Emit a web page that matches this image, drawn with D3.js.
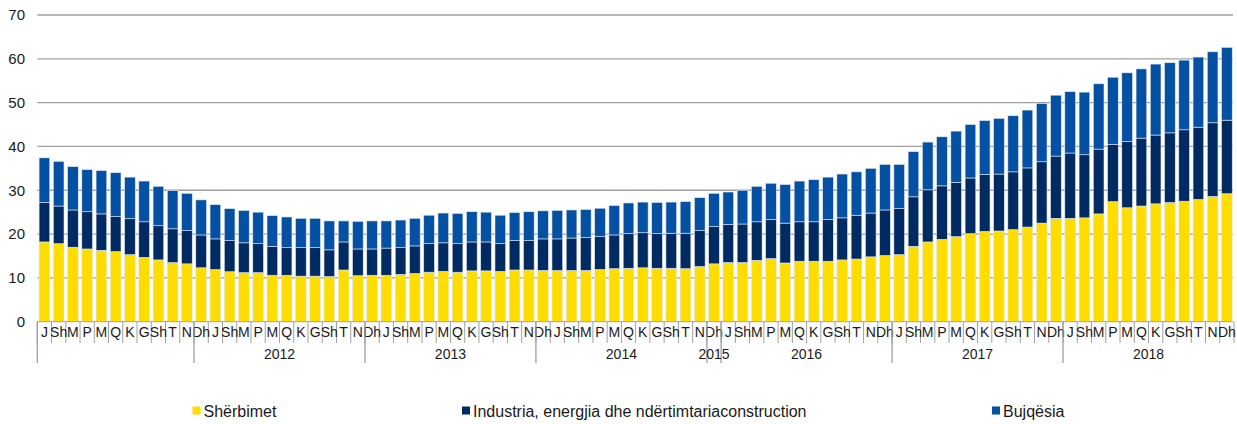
<!DOCTYPE html>
<html>
<head>
<meta charset="utf-8">
<script src="https://cdn.jsdelivr.net/npm/d3@7"></script>
<style>
  html, body { margin: 0; padding: 0; background: #fff; }
  svg { display: block; font-family: "Liberation Sans", Arial, sans-serif; }
</style>
</head>
<body>
<svg id="chart" width="1237" height="424"></svg>
<script>
// ---- Data ----
const monthLabels = ["J","Sh","M","P","M","Q","K","G","Sh","T","N","Dh"];
const yearLabels = ["", "2012", "2013", "2014", "2015", "2016", "2017", "2018"];
const yearSpans  = [11, 12, 12, 12, 1, 12, 12, 12];
const yTicks = [0, 10, 20, 30, 40, 50, 60, 70];
const seriesNames = ["Shërbimet", "Industria, energjia dhe ndërtimtariaconstruction", "Bujqësia"];

const sherbimet = [
  18.2,17.8,17.0,16.6,16.3,16.0,15.3,14.7,14.1,13.5,13.2,12.3,
  11.9,11.4,11.2,11.2,10.6,10.6,10.4,10.4,10.3,11.8,10.5,10.6,
  10.6,10.8,11.0,11.3,11.5,11.3,11.6,11.6,11.5,11.8,11.8,11.7,
  11.7,11.7,11.7,11.9,12.1,12.2,12.3,12.2,12.2,12.1,12.6,13.2,
  13.5,13.5,14.0,14.4,13.4,13.8,13.8,13.8,14.1,14.3,14.8,15.1,
  15.3,17.2,18.2,18.8,19.4,20.1,20.6,20.7,21.0,21.6,22.5,23.6,
  23.6,23.7,24.6,27.4,26.0,26.4,26.9,27.2,27.5,27.9,28.6,29.2
];
const industria = [
  9.0,8.6,8.5,8.5,8.3,8.0,8.2,8.1,7.8,7.7,7.6,7.5,
  7.0,7.1,6.8,6.6,6.6,6.3,6.5,6.5,6.1,6.4,6.1,6.0,
  6.2,6.1,6.3,6.5,6.5,6.5,6.6,6.6,6.3,6.7,6.7,7.2,
  7.2,7.4,7.5,7.5,7.7,7.9,8.0,7.9,8.0,8.1,8.2,8.5,
  8.7,8.8,8.8,8.9,9.1,9.0,9.0,9.5,9.6,10.0,10.0,10.4,
  10.5,11.3,11.9,12.2,12.4,12.7,13.0,13.0,13.2,13.5,14.0,14.2,
  14.9,14.4,14.8,13.1,15.1,15.5,15.7,15.9,16.3,16.5,16.8,16.8
];
const bujqesia = [
  10.2,10.2,9.9,9.6,9.9,10.0,9.5,9.3,9.0,8.7,8.5,8.0,
  7.8,7.3,7.4,7.2,7.0,7.0,6.7,6.7,6.6,4.8,6.3,6.4,
  6.2,6.3,6.3,6.5,6.8,6.9,6.9,6.8,6.5,6.4,6.6,6.4,
  6.5,6.4,6.4,6.5,6.7,7.0,7.0,7.1,7.1,7.2,7.5,7.6,
  7.4,7.7,8.1,8.3,8.8,9.3,9.6,9.7,10.0,9.9,10.2,10.4,
  10.1,10.3,10.9,11.2,11.7,12.2,12.3,12.7,12.8,13.2,13.3,13.9,
  14.0,14.3,14.9,15.3,15.7,15.8,16.2,16.0,15.9,16.0,16.2,16.6
];

(function () {
// ---- Build table ----
const n = sherbimet.length;
const rows = d3.range(n).map(i => ({
  idx: i,
  month: monthLabels[i % 12],
  s: sherbimet[i], ind: industria[i], b: bujqesia[i]
}));
const keys = ["s", "ind", "b"];
const colors = { s: "#FFDD00", ind: "#002A62", b: "#0450A3" };

// ---- Layout ----
const svg = d3.select("#chart");
const plotLeft = 37.3, plotRight = 1234, plotTop = 15, plotBottom = 321.7;

const x = d3.scaleBand()
  .domain(rows.map(r => r.idx))
  .range([plotLeft, plotRight])
  .paddingInner(0.25)
  .paddingOuter(0.125);
const step = x.step();

const y = d3.scaleLinear().domain([0, 70]).range([plotBottom, plotTop]);

// gridlines
svg.append("g").selectAll("line")
  .data(yTicks.filter(t => t > 0))
  .join("line")
  .attr("x1", plotLeft).attr("x2", plotRight - 1)
  .attr("y1", d => y(d)).attr("y2", d => y(d))
  .attr("stroke", "#a0a0a0").attr("stroke-width", 1.3);

// y labels
svg.append("g").selectAll("text")
  .data(yTicks)
  .join("text")
  .attr("x", 25).attr("y", d => y(d))
  .attr("dy", "0.36em")
  .attr("text-anchor", "end")
  .attr("font-size", 15)
  .attr("fill", "#1a1a1a")
  .text(d => d);

// bars
const stacked = d3.stack().keys(keys)(rows);
svg.append("g").selectAll("g")
  .data(stacked)
  .join("g")
  .attr("fill", d => colors[d.key])
  .selectAll("rect")
  .data(d => d)
  .join("rect")
  .attr("x", d => x(d.data.idx))
  .attr("width", x.bandwidth())
  .attr("y", d => y(d[1]))
  .attr("height", d => y(d[0]) - y(d[1]))
  .attr("stroke", "#dfe7f2")
  .attr("stroke-width", 0.6);

// axis base line
svg.append("line")
  .attr("x1", plotLeft).attr("x2", plotRight - 1)
  .attr("y1", plotBottom).attr("y2", plotBottom)
  .attr("stroke", "#a0a0a0").attr("stroke-width", 1);

// month tick separators
const monthTickBottom = 343, yearTickBottom = 363;
svg.append("g").selectAll("line")
  .data(d3.range(n + 1))
  .join("line")
  .attr("x1", i => plotLeft + i * step).attr("x2", i => plotLeft + i * step)
  .attr("y1", plotBottom).attr("y2", monthTickBottom)
  .attr("stroke", "#a0a0a0").attr("stroke-width", 1);

// month labels
svg.append("g").selectAll("text")
  .data(rows)
  .join("text")
  .attr("x", d => x(d.idx) + x.bandwidth() / 2)
  .attr("y", 337)
  .attr("text-anchor", "middle")
  .attr("font-size", 14)
  .attr("fill", "#1a1a1a")
  .text(d => d.month);

// year groups
let start = 0;
const groups = yearLabels.map((lab, k) => {
  const g = { label: lab, start: start, end: start + yearSpans[k] };
  start += yearSpans[k];
  return g;
});
svg.append("g").selectAll("line")
  .data(groups.map(g => g.start))
  .join("line")
  .attr("x1", i => plotLeft + i * step).attr("x2", i => plotLeft + i * step)
  .attr("y1", plotBottom).attr("y2", yearTickBottom)
  .attr("stroke", "#a0a0a0").attr("stroke-width", 1.3);

svg.append("g").selectAll("text")
  .data(groups)
  .join("text")
  .attr("x", g => plotLeft + (g.start + g.end) / 2 * step)
  .attr("y", 359)
  .attr("text-anchor", "middle")
  .attr("font-size", 14)
  .attr("fill", "#1a1a1a")
  .text(g => g.label);

// legend
const legendX = [192.5, 462, 992];
const lg = svg.append("g").selectAll("g")
  .data(keys)
  .join("g")
  .attr("transform", (k, i) => `translate(${legendX[i]},0)`);
lg.append("rect")
  .attr("x", 0).attr("y", 406.5).attr("width", 8).attr("height", 8)
  .attr("fill", k => colors[k]);
lg.append("text")
  .attr("x", 11).attr("y", 411)
  .attr("dy", "0.36em")
  .attr("font-size", 16)
  .attr("fill", "#1a1a1a")
  .text((k, i) => seriesNames[i]);
})();
</script>
</body>
</html>
